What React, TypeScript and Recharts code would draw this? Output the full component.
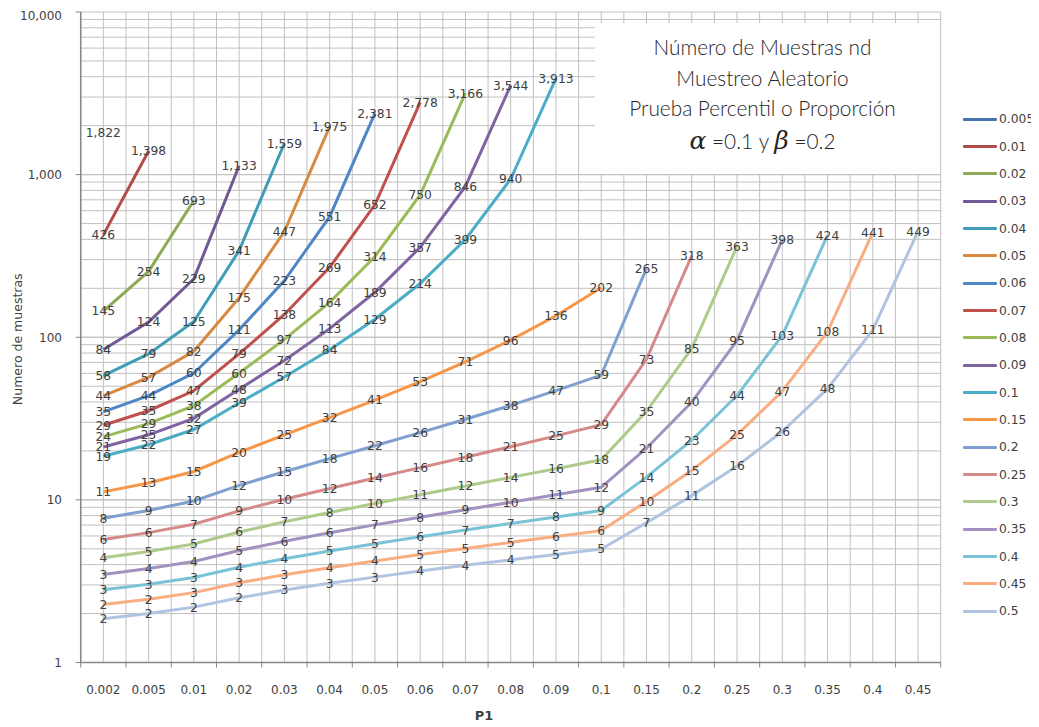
import React from 'react';
import { LineChart, Line, XAxis, YAxis, CartesianGrid, LabelList } from 'recharts';

// Category axis (P1)
const P1 = ['0.002', '0.005', '0.01', '0.02', '0.03', '0.04', '0.05', '0.06', '0.07', '0.08', '0.09', '0.1', '0.15', '0.2', '0.25', '0.3', '0.35', '0.4', '0.45'];

// Series names (legend)
const SERIES_NAMES = ['0.005', '0.01', '0.02', '0.03', '0.04', '0.05', '0.06', '0.07', '0.08', '0.09', '0.1', '0.15', '0.2', '0.25', '0.3', '0.35', '0.4', '0.45', '0.5'];

// Series values (from P1 = 0.002 onward)
const s005 = [1822];
const s01 = [426, 1398];
const s02 = [145, 254, 693];
const s03 = [84, 124, 229, 1133];
const s04 = [58, 79, 125, 341, 1559];
const s05 = [43.59, 56.64, 82, 175, 447, 1975];
const s06 = [34.76, 43.73, 60.25, 111, 223, 551, 2381];
const s07 = [28.75, 35.33, 46.86, 79, 138, 269, 652, 2778];
const s08 = [24.4, 29.46, 37.99, 60.2, 97, 164, 314, 750, 3166];
const s09 = [21.12, 25.13, 31.71, 47.93, 72, 113, 189, 357, 846, 3544];
const s10 = [18.55, 21.83, 27.07, 39.42, 56.91, 83.84, 129.0, 214, 399, 940, 3913];
const s15 = [11.2, 12.71, 14.95, 19.59, 25.1, 32.03, 41.09, 53.37, 70.63, 96.02, 135.5, 201.7];
const s20 = [7.72, 8.6, 9.85, 12.27, 14.9, 17.93, 21.53, 25.9, 31.31, 38.13, 46.92, 58.54, 265];
const s25 = [5.71, 6.29, 7.08, 8.56, 10.08, 11.75, 13.63, 15.78, 18.28, 21.23, 24.74, 28.98, 73.18, 318];
const s30 = [4.4, 4.81, 5.35, 6.34, 7.33, 8.37, 9.5, 10.76, 12.16, 13.75, 15.55, 17.63, 35.03, 85.37, 363];
const s35 = [3.48, 3.78, 4.18, 4.88, 5.56, 6.27, 7.02, 7.82, 8.7, 9.67, 10.74, 11.94, 20.78, 39.94, 95.2, 398];
const s40 = [2.8, 3.03, 3.33, 3.85, 4.35, 4.85, 5.37, 5.93, 6.52, 7.16, 7.85, 8.61, 13.79, 23.26, 43.76, 102.7, 424];
const s45 = [2.27, 2.45, 2.69, 3.09, 3.46, 3.83, 4.21, 4.61, 5.03, 5.48, 5.95, 6.47, 9.78, 15.19, 25.1, 46.54, 107.95, 441];
const s50 = [1.86, 2.0, 2.19, 2.498, 2.79, 3.07, 3.35, 3.65, 3.96, 4.28, 4.62, 4.99, 7.23, 10.62, 16.17, 26.34, 48.28, 110.9, 449];

const SERIES_VALUES = [s005, s01, s02, s03, s04, s05, s06, s07, s08, s09, s10, s15, s20, s25, s30, s35, s40, s45, s50];

const COLORS = [
  '#4674AF', '#B04D4A', '#8EAA55', '#6F5895', '#3F9DB6', '#D98A42',
  '#4F86C6', '#C0504D', '#9BBB59', '#8064A2', '#4BACC6', '#F79646',
  '#7FA0D0', '#D48A88', '#AFCB8B', '#A192C0', '#7AC3D6', '#FAAD80', '#B0C4E0',
];

const Y_TICKS = [1, 10, 100, 1000, 10000];

const rows = P1.map((p, i) => {
  const r: any = { p1: p };
  SERIES_VALUES.forEach((s, j) => {
    r['s' + j] = i < s.length ? s[i] : null;
  });
  return r;
});

const minorValues: number[] = [];
for (let d = 1; d <= 1000; d *= 10) {
  for (let k = 1; k <= 10; k++) minorValues.push(d * k);
}

const CW = 1031;
const CH = 719;
const FALLBACK = { left: 72.7, top: 4, width: 860, height: 650.5 };
const HALF_BAND = 22.63;

const fmt = (v: number) => Math.round(v).toLocaleString('en-US');

const renderLabel = (props: any) => {
  const { value } = props;
  if (value === null || value === undefined) return null;
  const x = props.x ?? props.viewBox?.x;
  const y = props.y ?? props.viewBox?.y;
  if (x == null || y == null || isNaN(x) || isNaN(y)) return null;
  return (
    <text x={x} y={y} dy="0.36em" textAnchor="middle" fontFamily="DejaVu Sans" fontSize={12.3} fill="#404040">
      {fmt(value)}
    </text>
  );
};

const XTick = (props: any) => {
  const { x, y, payload, index } = props;
  const axisY = y - 23;
  const last = index === P1.length - 1;
  return (
    <g>
      <line x1={x - HALF_BAND} x2={x - HALF_BAND} y1={axisY} y2={axisY + 5} stroke="#868686" strokeWidth={1} />
      {last && <line x1={x + HALF_BAND} x2={x + HALF_BAND} y1={axisY} y2={axisY + 5} stroke="#868686" strokeWidth={1} />}
      <text x={x} y={y} dy="0.71em" textAnchor="middle" fontFamily="DejaVu Sans" fontSize={12} fill="#404040">
        {payload.value}
      </text>
    </g>
  );
};

const YLabel = (props: any) => {
  const vb = props.viewBox || { x: 0, y: 4, width: 72.7, height: 650.5 };
  const cx = vb.x + 9;
  const cy = vb.y + vb.height / 2 + 2;
  return (
    <text x={cx} y={cy} transform={`rotate(-90 ${cx} ${cy})`} textAnchor="middle" dominantBaseline="central"
      fontFamily="DejaVu Sans" fontSize={12.5} fill="#404040">
      Numero de muestras
    </text>
  );
};

const XLabel = (props: any) => {
  const vb = props.viewBox || { x: 72.7, y: 654.5, width: 860, height: 40 };
  const cx = vb.x + vb.width / 2 - 26.7;
  const cy = vb.y + 52.5;
  return (
    <text x={cx} y={cy} textAnchor="middle" dominantBaseline="central" fontFamily="DejaVu Sans" fontWeight="bold" fontSize={13} fill="#404040">
      P1
    </text>
  );
};

const vGen = (props: any) => {
  const o = props && props.offset && props.offset.width ? props.offset : FALLBACK;
  return Array.from({ length: 39 }, (_, i) => o.left + (i * o.width) / 38);
};

const hGen = (props: any) => {
  const o = props && props.offset && props.offset.height ? props.offset : FALLBACK;
  return minorValues.map((v) => o.top + o.height * (1 - Math.log10(v) / 4));
};

const tickStyle = { fontFamily: 'DejaVu Sans', fontSize: 12, fill: '#404040' };

export default function App() {
  return (
    <div style={{ position: 'relative', width: CW, height: CH }}>
      <LineChart width={CW} height={CH} data={rows} margin={{ top: 4, right: 98.3, bottom: 24.5, left: 0 }}>
        <CartesianGrid
          stroke="#C0C0C0"
          strokeWidth={1}
          verticalCoordinatesGenerator={vGen}
          horizontalCoordinatesGenerator={hGen}
        />
        <XAxis
          dataKey="p1"
          height={40}
          padding={{ left: HALF_BAND, right: HALF_BAND }}
          axisLine={{ stroke: '#868686', strokeWidth: 1.5 }}
          tickLine={false}
          tickSize={5}
          tickMargin={18}
          interval={0}
          tick={<XTick />}
          label={<XLabel />}
        />
        <YAxis
          scale="log"
          domain={[1, 10000]}
          ticks={Y_TICKS}
          allowDataOverflow
          width={72.7}
          axisLine={{ stroke: '#868686', strokeWidth: 1.5 }}
          tickLine={{ stroke: '#868686' }}
          tickSize={5}
          tickMargin={13.7}
          tick={tickStyle}
          tickFormatter={(v: number) => v.toLocaleString('en-US')}
          label={<YLabel />}
        />
        {SERIES_NAMES.map((name, j) => (
          <Line
            key={name}
            type="linear"
            dataKey={'s' + j}
            name={name}
            stroke={COLORS[j]}
            strokeWidth={3}
            dot={false}
            activeDot={false}
            connectNulls={false}
            isAnimationActive={false}
          >
            <LabelList dataKey={'s' + j} content={renderLabel} />
          </Line>
        ))}
      </LineChart>

      {/* Title box */}
      <div
        style={{
          position: 'absolute', left: 587, top: 15, width: 345, height: 151, background: '#FFFFFF',
          fontFamily: 'Lato', fontWeight: 300, color: '#262626', fontSize: 20.8,
        }}
      >
        {[
          { t: 'Número de Muestras nd', y: 24 },
          { t: 'Muestreo Aleatorio', y: 55 },
          { t: 'Prueba Percentil o Proporción', y: 85 },
        ].map((l) => (
          <div key={l.t} style={{ position: 'absolute', left: -5, width: 345, top: l.y - 14, height: 28, lineHeight: '28px', textAlign: 'center', whiteSpace: 'nowrap' }}>
            {l.t}
          </div>
        ))}
        <div style={{ position: 'absolute', left: -5, width: 345, top: 118 - 16, height: 32, lineHeight: '32px', textAlign: 'center', whiteSpace: 'nowrap' }}>
          <span style={{ fontFamily: 'DejaVu Serif', fontStyle: 'italic', fontSize: 25 }}>α</span>
          <span> =0.1 y </span>
          <span style={{ fontFamily: 'DejaVu Serif', fontStyle: 'italic', fontSize: 25 }}>β</span>
          <span> =0.2</span>
        </div>
      </div>

      {/* Legend */}
      <div style={{ position: 'absolute', left: 955, top: 111.3 - 13.66, width: 76 }}>
        {SERIES_NAMES.map((name, j) => (
          <div key={name} style={{ display: 'flex', alignItems: 'center', height: 27.33 }}>
            <div style={{ width: 34, height: 3, background: COLORS[j], borderRadius: 1 }} />
            <span style={{ marginLeft: 2, fontFamily: 'DejaVu Sans', fontSize: 12.3, color: '#404040' }}>{name}</span>
          </div>
        ))}
      </div>
    </div>
  );
}
